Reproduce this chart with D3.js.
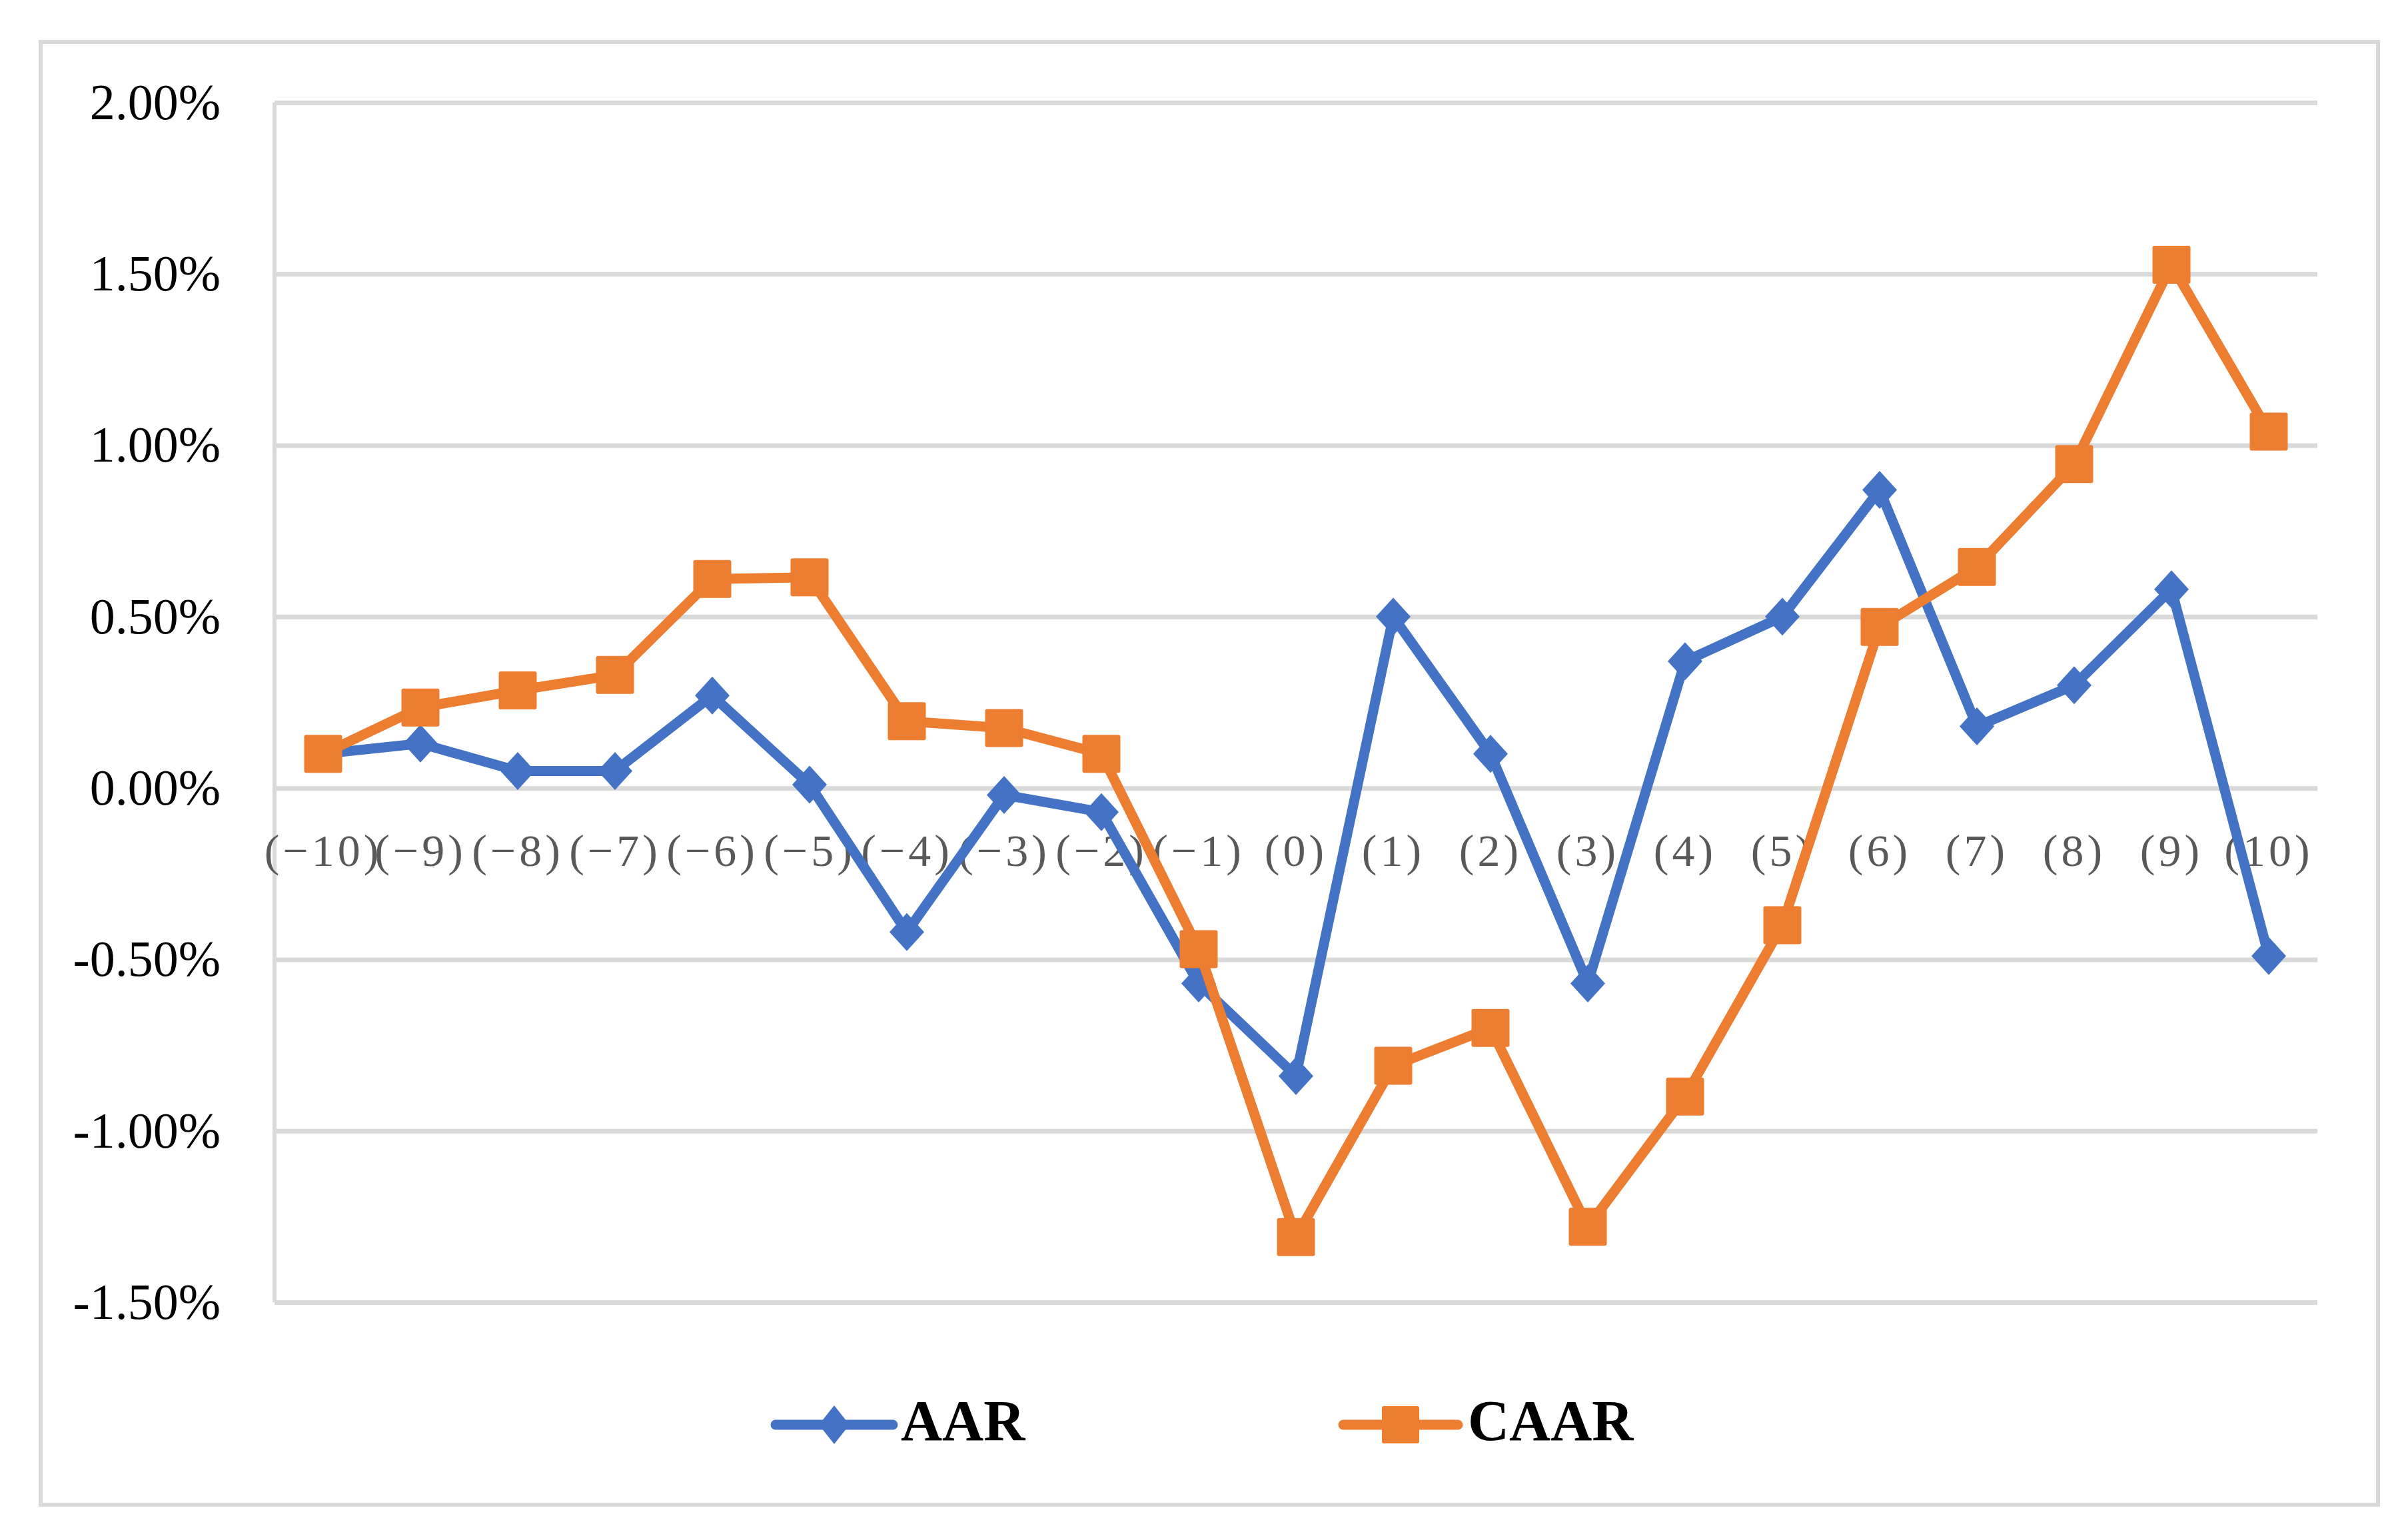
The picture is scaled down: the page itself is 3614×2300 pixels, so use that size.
<!DOCTYPE html>
<html>
<head>
<meta charset="utf-8">
<script src="https://cdn.jsdelivr.net/npm/d3@7/dist/d3.min.js"></script>
<style>
  html, body { margin: 0; padding: 0; background: #ffffff; }
  svg { display: block; }
</style>
</head>
<body>
<svg id="chart" width="3614" height="2300"></svg>
<script>
// ---------- data ----------
const categories = ["(\u221210)","(\u22129)","(\u22128)","(\u22127)","(\u22126)","(\u22125)","(\u22124)","(\u22123)","(\u22122)","(\u22121)",
  "(0)","(1)","(2)","(3)","(4)","(5)","(6)","(7)","(8)","(9)","(10)"];
const aarValues = [0.10, 0.13, 0.05, 0.05, 0.27, 0.01, -0.42, -0.02, -0.07, -0.57,
  -0.84, 0.50, 0.10, -0.57, 0.37, 0.50, 0.87, 0.18, 0.30, 0.58, -0.49];
const caarValues = [0.10, 0.235, 0.285, 0.33, 0.61, 0.615, 0.195, 0.175, 0.10, -0.47,
  -1.31, -0.81, -0.70, -1.28, -0.90, -0.40, 0.47, 0.645, 0.945, 1.527, 1.04];
const yTickValues = [-1.5, -1.0, -0.5, 0.0, 0.5, 1.0, 1.5, 2.0];
const yTickLabels = ["-1.50%", "-1.00%", "-0.50%", "0.00%", "0.50%", "1.00%", "1.50%", "2.00%"];
const seriesNames = ["AAR", "CAAR"];

// ---------- layout ----------
const W = 3614, H = 2300;
const plot = { left: 412, right: 3478, top: 154, bottom: 1955 };
const colors = { AAR: "#4472C4", CAAR: "#ED7D31" };
const grid = "#D9D9D9";

const svg = d3.select("#chart");
svg.append("rect").attr("width", W).attr("height", H).attr("fill", "#fff");

// outer frame
svg.append("rect")
  .attr("x", 61).attr("y", 63)
  .attr("width", 3569 - 61).attr("height", 2259 - 63)
  .attr("fill", "none").attr("stroke", grid).attr("stroke-width", 6);

const x = d3.scaleBand().domain(categories).range([plot.left, plot.right]).padding(0);
const cx = c => x(c) + x.bandwidth() / 2;
const y = d3.scaleLinear().domain([-1.5, 2.0]).range([plot.bottom, plot.top]);

// gridlines
const gridG = svg.append("g").attr("transform", `translate(${plot.left},0)`)
  .call(d3.axisLeft(y).tickValues(yTickValues).tickSize(-(plot.right - plot.left)).tickFormat(""));
gridG.select(".domain").remove();
gridG.selectAll(".tick line").attr("stroke", grid).attr("stroke-width", 7);

// vertical axis line
svg.append("line")
  .attr("x1", plot.left).attr("x2", plot.left)
  .attr("y1", y(2.0)).attr("y2", y(-1.5))
  .attr("stroke", grid).attr("stroke-width", 6);

// y tick labels
const yAxisG = svg.append("g").attr("transform", `translate(${plot.left},0)`)
  .call(d3.axisLeft(y).tickValues(yTickValues).tickSize(0).tickPadding(81)
    .tickFormat((d, i) => yTickLabels[i]));
yAxisG.select(".domain").remove();
yAxisG.selectAll(".tick text")
  .attr("font-family", "'Liberation Serif', 'Times New Roman', serif")
  .attr("font-size", 76).attr("fill", "#000").attr("dy", "0.32em");

// x tick labels (positioned at zero line)
const xAxisG = svg.append("g").attr("transform", `translate(0,${y(0)})`)
  .call(d3.axisBottom(x).tickSize(0).tickPadding(69));
xAxisG.select(".domain").remove();
xAxisG.selectAll(".tick text")
  .attr("font-family", "'Liberation Serif', 'Times New Roman', serif")
  .attr("font-size", 68).attr("fill", "#595959")
  .attr("letter-spacing", "5px").attr("dy", "0.71em");

// series
const lineGen = d3.line().x(d => cx(d.c)).y(d => y(d.v));
const DW = 26, DH = 28.5; // diamond half sizes
const SQ = 57;
function diamondPath(px, py, hw, hh) {
  return `M${px},${py - hh}L${px + hw},${py}L${px},${py + hh}L${px - hw},${py}Z`;
}

const series = [
  { name: "AAR", values: aarValues, marker: "diamond" },
  { name: "CAAR", values: caarValues, marker: "square" }
];

series.forEach(s => {
  const pts = categories.map((c, i) => ({ c, v: s.values[i] }));
  const g = svg.append("g");
  g.append("path").datum(pts)
    .attr("d", lineGen)
    .attr("fill", "none").attr("stroke", colors[s.name])
    .attr("stroke-width", 15).attr("stroke-linejoin", "round").attr("stroke-linecap", "round");
  if (s.marker === "diamond") {
    g.selectAll("path.m").data(pts).join("path").attr("class", "m")
      .attr("d", d => diamondPath(cx(d.c), y(d.v), DW, DH))
      .attr("fill", colors[s.name]);
  } else {
    g.selectAll("rect.m").data(pts).join("rect").attr("class", "m")
      .attr("x", d => cx(d.c) - SQ / 2).attr("y", d => y(d.v) - SQ / 2)
      .attr("width", SQ).attr("height", SQ).attr("rx", 3)
      .attr("fill", colors[s.name]);
  }
});

// legend
const legendY = 2139;
const legendItems = [
  { name: "AAR", x1: 1164, x2: 1340, marker: "diamond", tx: 1352 },
  { name: "CAAR", x1: 2016, x2: 2188, marker: "square", tx: 2203 }
];
legendItems.forEach(it => {
  const g = svg.append("g");
  g.append("line").attr("x1", it.x1).attr("x2", it.x2).attr("y1", legendY).attr("y2", legendY)
    .attr("stroke", colors[it.name]).attr("stroke-width", 15).attr("stroke-linecap", "round");
  const mx = (it.x1 + it.x2) / 2;
  if (it.marker === "diamond") {
    g.append("path").attr("d", diamondPath(mx, legendY, 23, 29)).attr("fill", colors[it.name]);
  } else {
    g.append("rect").attr("x", mx - 28).attr("y", legendY - 28).attr("width", 56).attr("height", 56)
      .attr("rx", 3).attr("fill", colors[it.name]);
  }
  g.append("text").attr("x", it.tx).attr("y", 2162)
    .attr("font-family", "'Liberation Serif', 'Times New Roman', serif")
    .attr("font-weight", "bold").attr("font-size", 86).attr("fill", "#000")
    .text(it.name);
});
</script>
</body>
</html>
